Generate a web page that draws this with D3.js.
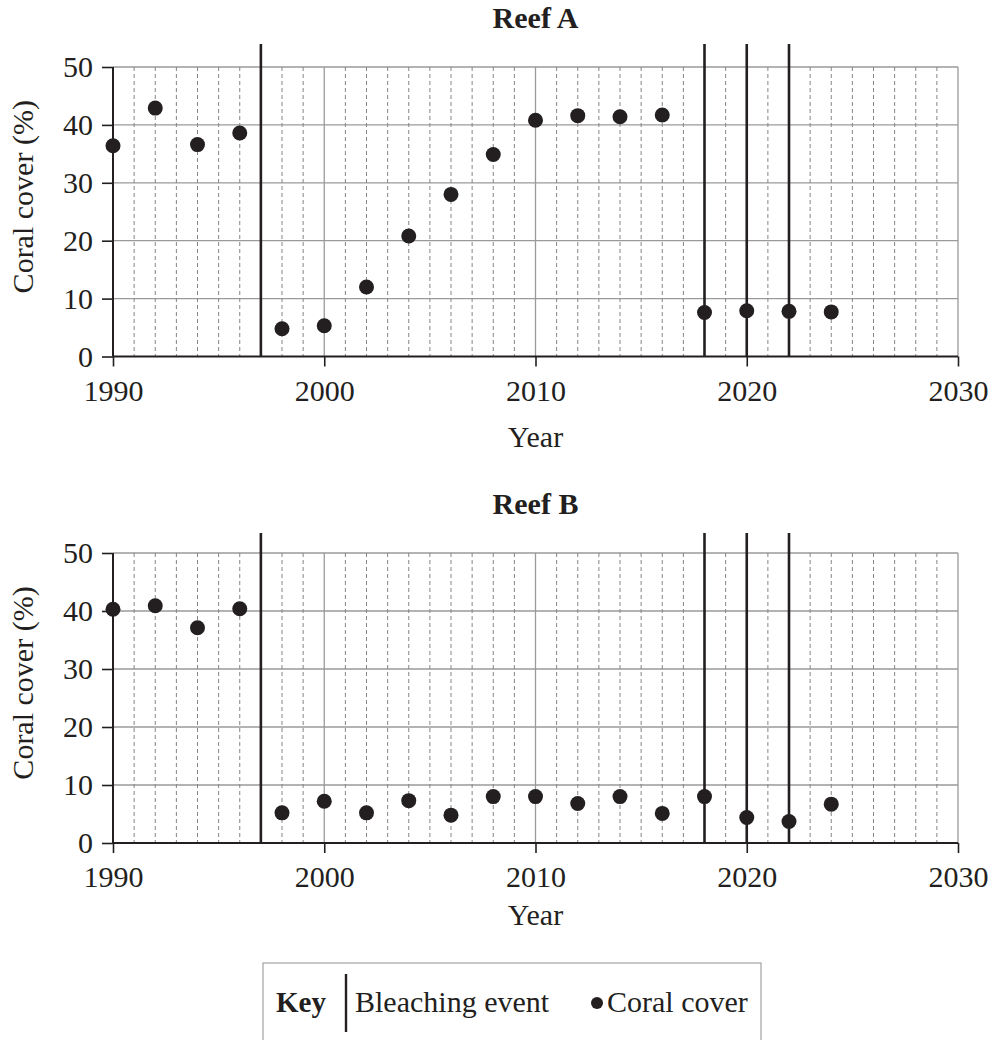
<!DOCTYPE html>
<html lang="en">
<head>
  <meta charset="UTF-8">
  <title>Coral cover and bleaching events</title>
  <script src="https://d3js.org/d3.v7.min.js"></script>
  <style>
    body { margin: 0; background: #fff; }
    svg text { fill: #231f20; font-family: "Liberation Serif", Tinos, Times, "DejaVu Serif", serif; }
  </style>
</head>
<body>
<div id="chart"></div>
<script>
  // data
  const years = [1990, 1992, 1994, 1996, 1998, 2000, 2002, 2004, 2006, 2008, 2010, 2012, 2014, 2016, 2018, 2020, 2022, 2024];
  const reefA = [36.4, 42.9, 36.6, 38.6, 4.8, 5.3, 12.0, 20.8, 28.0, 34.9, 40.8, 41.6, 41.4, 41.7, 7.6, 7.9, 7.8, 7.7];
  const reefB = [40.3, 40.9, 37.1, 40.4, 5.2, 7.2, 5.2, 7.3, 4.8, 8.0, 8.0, 6.8, 8.0, 5.1, 8.0, 4.4, 3.7, 6.7];
  const bleachingYears = [1997, 2018, 2020, 2022];
  const xTicks = [1990, 2000, 2010, 2020, 2030];
  const yTicks = [0, 10, 20, 30, 40, 50];

  const W = 995, H = 1040;
  const ink = "#231f20";
  const gridGray = "#9a9a9a";
  const serif = "'Liberation Serif', Tinos, Times, 'DejaVu Serif', serif";

  const svg = d3.select("#chart").append("svg")
    .attr("width", W).attr("height", H)
    .attr("font-family", serif);

  const x = d3.scaleLinear().domain([1990, 2030]).range([113, 958]);

  const panels = [
    { title: "Reef A", values: reefA, top: 67, bottom: 356.5, lineTop: 44, yearY: 447 },
    { title: "Reef B", values: reefB, top: 553, bottom: 843, lineTop: 533, yearY: 925 }
  ];

  panels.forEach(p => {
    const y = d3.scaleLinear().domain([0, 50]).range([p.bottom, p.top]);
    const g = svg.append("g");

    // horizontal grid
    g.append("g").selectAll("line")
      .data(yTicks.slice(1))
      .join("line")
      .attr("x1", x(1990)).attr("x2", x(2030))
      .attr("y1", d => y(d)).attr("y2", d => y(d))
      .attr("stroke", gridGray).attr("stroke-width", 1.3);

    // dashed yearly lines
    const minorYears = d3.range(1991, 2030).filter(d => d % 10 !== 0);
    g.append("g").selectAll("line")
      .data(minorYears)
      .join("line")
      .attr("x1", d => x(d)).attr("x2", d => x(d))
      .attr("y1", y(50)).attr("y2", y(0))
      .attr("stroke", "#858585").attr("stroke-width", 1)
      .attr("stroke-dasharray", "4,3");

    // decade lines
    g.append("g").selectAll("line")
      .data(xTicks.slice(1))
      .join("line")
      .attr("x1", d => x(d)).attr("x2", d => x(d))
      .attr("y1", y(50)).attr("y2", y(0))
      .attr("stroke", gridGray).attr("stroke-width", 1.3);

    // bleaching events
    g.append("g").selectAll("line")
      .data(bleachingYears)
      .join("line")
      .attr("x1", d => x(d)).attr("x2", d => x(d))
      .attr("y1", p.lineTop).attr("y2", y(0))
      .attr("stroke", ink).attr("stroke-width", 2.6);

    // axes
    const yAxis = g.append("g")
      .attr("transform", `translate(${x(1990)},0)`)
      .call(d3.axisLeft(y).tickValues(yTicks).tickSize(11).tickPadding(9));
    const xAxis = g.append("g")
      .attr("transform", `translate(0,${y(0)})`)
      .call(d3.axisBottom(x).tickValues(xTicks).tickFormat(d3.format("d")).tickSize(10).tickPadding(13));

    [yAxis, xAxis].forEach(a => {
      a.attr("font-family", null).attr("font-size", null);
      a.select(".domain").remove();
      a.selectAll("line").attr("stroke", ink).attr("stroke-width", 1.6);
      a.selectAll("text").attr("fill", ink).style("font-size", "30px");
    });

    g.append("line")
      .attr("x1", x(1990)).attr("x2", x(1990))
      .attr("y1", y(50)).attr("y2", y(0))
      .attr("stroke", ink).attr("stroke-width", 2);
    g.append("line")
      .attr("x1", x(1990)).attr("x2", x(2030))
      .attr("y1", y(0)).attr("y2", y(0))
      .attr("stroke", ink).attr("stroke-width", 2);

    // points
    g.append("g").selectAll("circle")
      .data(years.map((yr, i) => ({ yr, v: p.values[i] })))
      .join("circle")
      .attr("cx", d => x(d.yr)).attr("cy", d => y(d.v))
      .attr("r", 7.5).attr("fill", ink);

    // titles
    g.append("text")
      .attr("x", (x(1990) + x(2030)) / 2).attr("y", p.top - 39)
      .attr("text-anchor", "middle")
      .style("font-size", "30px").style("font-weight", "bold")
      .text(p.title);

    g.append("text")
      .attr("transform", `translate(33,${(p.top + p.bottom) / 2 - 15}) rotate(-90)`)
      .attr("text-anchor", "middle")
      .style("font-size", "30px")
      .text("Coral cover (%)");

    g.append("text")
      .attr("x", (x(1990) + x(2030)) / 2).attr("y", p.yearY)
      .attr("text-anchor", "middle")
      .style("font-size", "30px")
      .text("Year");
  });

  // key
  const key = svg.append("g");
  key.append("rect")
    .attr("x", 263).attr("y", 963).attr("width", 498).attr("height", 90)
    .attr("fill", "none").attr("stroke", "#aaa").attr("stroke-width", 1.3);
  key.append("text").attr("x", 276).attr("y", 1012)
    .style("font-size", "29px").style("font-weight", "bold").text("Key");
  key.append("line").attr("x1", 346).attr("x2", 346).attr("y1", 974).attr("y2", 1032)
    .attr("stroke", ink).attr("stroke-width", 2.4);
  key.append("text").attr("x", 355).attr("y", 1012)
    .style("font-size", "30px").text("Bleaching event");
  key.append("circle").attr("cx", 597).attr("cy", 1003).attr("r", 6).attr("fill", ink);
  key.append("text").attr("x", 607).attr("y", 1012)
    .style("font-size", "30px").text("Coral cover");
</script>
</body>
</html>
